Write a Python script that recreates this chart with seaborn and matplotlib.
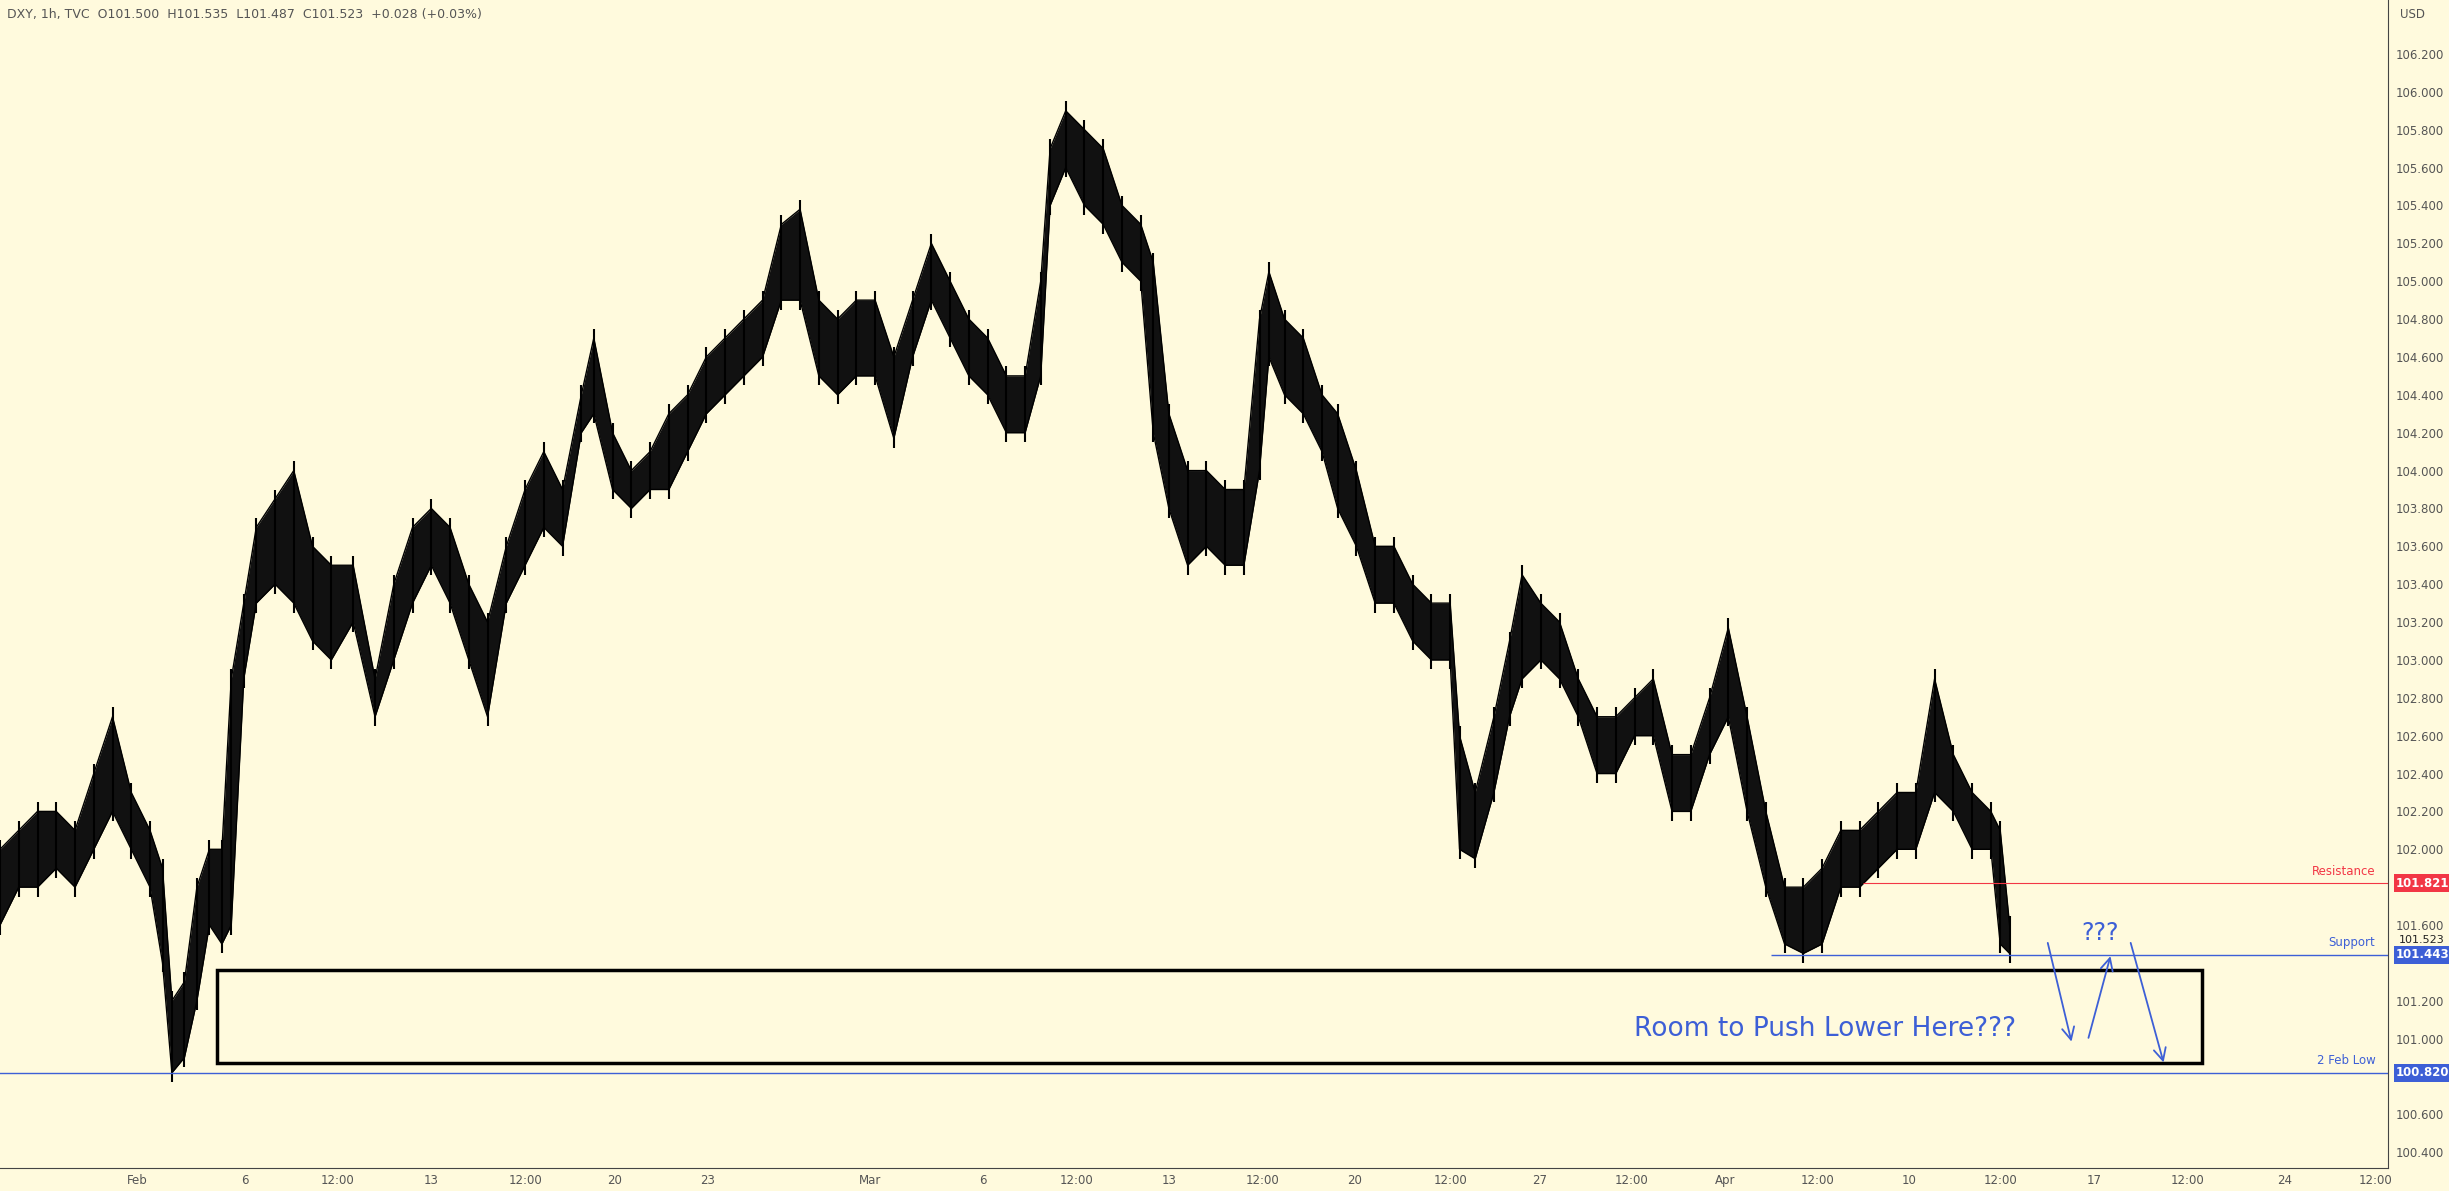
import matplotlib
matplotlib.use("Agg")
import matplotlib.pyplot as plt
import pandas as pd
import seaborn as sns
from matplotlib.patches import Rectangle

# trading hours since Mon 6 Feb 00:00 (weekends removed), with bar high / low
hours = [-157, -145, -133, -121, -109, -97, -85, -73, -61, -53, -47, -39, -31, -23, -15, -9,
         -1, 7, 19, 31, 43, 55, 69, 83, 95, 107, 119, 131, 143, 155, 167, 179, 191, 203,
         215, 223, 235, 247, 259, 271, 283, 295, 307, 319, 331, 343, 355, 367, 379, 391,
         403, 415, 427, 439, 451, 463, 475, 487, 499, 509, 515, 525, 537, 549, 561, 573,
         581, 591, 603, 615, 627, 639, 649, 655, 665, 677, 689, 699, 711, 723, 735, 747,
         759, 771, 777, 787, 799, 809, 817, 829, 841, 853, 865, 877, 889, 901, 913, 925,
         937, 949, 961, 973, 985, 997, 1009, 1021, 1033, 1045, 1057, 1069, 1081, 1093,
         1105, 1117, 1123, 1129]
highs = [102.0, 102.1, 102.2, 102.2, 102.1, 102.4, 102.7, 102.3, 102.1, 101.9, 101.2, 101.3,
         101.8, 102.0, 102.0, 102.9, 103.3, 103.7, 103.85, 104.0, 103.6, 103.5, 103.5, 102.9,
         103.4, 103.7, 103.8, 103.7, 103.4, 103.2, 103.6, 103.9, 104.1, 103.9, 104.4, 104.7,
         104.2, 104.0, 104.1, 104.3, 104.4, 104.6, 104.7, 104.8, 104.9, 105.3, 105.38, 104.9,
         104.8, 104.9, 104.9, 104.6, 104.9, 105.2, 105.0, 104.8, 104.7, 104.5, 104.5, 105.0,
         105.7, 105.9, 105.8, 105.7, 105.4, 105.3, 105.1, 104.3, 104.0, 104.0, 103.9, 103.9,
         104.8, 105.05, 104.8, 104.7, 104.4, 104.3, 104.0, 103.6, 103.6, 103.4, 103.3, 103.3,
         102.6, 102.3, 102.7, 103.1, 103.45, 103.3, 103.2, 102.9, 102.7, 102.7, 102.8, 102.9,
         102.5, 102.5, 102.8, 103.17, 102.7, 102.2, 101.8, 101.8, 101.9, 102.1, 102.1, 102.2,
         102.3, 102.3, 102.9, 102.5, 102.3, 102.2, 102.1, 101.6]
lows = [101.6, 101.8, 101.8, 101.9, 101.8, 102.0, 102.2, 102.0, 101.8, 101.4, 100.82, 100.9,
        101.2, 101.6, 101.5, 101.6, 102.9, 103.3, 103.4, 103.3, 103.1, 103.0, 103.2, 102.7,
        103.0, 103.3, 103.5, 103.3, 103.0, 102.7, 103.3, 103.5, 103.7, 103.6, 104.2, 104.3,
        103.9, 103.8, 103.9, 103.9, 104.1, 104.3, 104.4, 104.5, 104.6, 104.9, 104.9, 104.5,
        104.4, 104.5, 104.5, 104.17, 104.6, 104.9, 104.7, 104.5, 104.4, 104.2, 104.2, 104.5,
        105.4, 105.6, 105.4, 105.3, 105.1, 105.0, 104.2, 103.8, 103.5, 103.6, 103.5, 103.5,
        104.0, 104.6, 104.4, 104.3, 104.1, 103.8, 103.6, 103.3, 103.3, 103.1, 103.0, 103.0,
        102.0, 101.95, 102.3, 102.7, 102.9, 103.0, 102.9, 102.7, 102.4, 102.4, 102.6, 102.6,
        102.2, 102.2, 102.5, 102.7, 102.2, 101.8, 101.5, 101.45, 101.5, 101.8, 101.8, 101.9,
        102.0, 102.0, 102.3, 102.2, 102.0, 102.0, 101.5, 101.45]

tick_hours = [-69, 0, 59, 119, 179, 236, 296, 400, 472, 532, 591, 651, 710, 771, 828, 887,
              947, 1006, 1065, 1123, 1183, 1243, 1305, 1363]
tick_labels = ["Feb", "6", "12:00", "13", "12:00", "20", "23", "Mar", "6", "12:00", "13",
               "12:00", "20", "12:00", "27", "12:00", "Apr", "12:00", "10", "12:00", "17",
               "12:00", "24", "12:00"]

support = 101.443
resistance = 101.821
feb_low = 100.820
last_close = 101.523

df = pd.DataFrame({"hour": hours, "high": highs, "low": lows})

bg = "#fffadd"
blue = "#3d5fd6"
red = "#f23645"
fig = plt.figure(figsize=(24.49, 11.91), dpi=100, facecolor=bg)
ax = fig.add_axes([0.0, 0.019, 0.975, 0.981])
ax.set_facecolor(bg)

ax.fill_between(df["hour"], df["low"], df["high"], color="#111111", linewidth=0)
ax.vlines(df["hour"], df["low"] - 0.05, df["high"] + 0.05, color="black", linewidth=1.5)
sns.lineplot(data=df, x="hour", y="high", ax=ax, color="black", linewidth=1)
sns.lineplot(data=df, x="hour", y="low", ax=ax, color="black", linewidth=1)

ax.set_xlim(-157, 1371)
ax.set_ylim(100.315, 106.485)

# levels
ax.axhline(feb_low, color=blue, linewidth=1)
ax.hlines(support, 976, 1371, color=blue, linewidth=1)
ax.hlines(resistance, 1035, 1371, color=red, linewidth=0.8)
ax.text(1363, resistance + 0.03, "Resistance", color=red, fontsize=8.5, ha="right", va="bottom")
ax.text(1363, support + 0.03, "Support", color=blue, fontsize=8.5, ha="right", va="bottom")
ax.text(1363, feb_low + 0.03, "2 Feb Low", color=blue, fontsize=8.5, ha="right", va="bottom")

# room box and arrows
ax.add_patch(Rectangle((-18, 100.87), 1270, 0.49, fill=False, edgecolor="black", linewidth=2.5))
ax.text(1011, 101.05, "Room to Push Lower Here???", color=blue, fontsize=19, ha="center", va="center")
ax.text(1187, 101.56, "???", color=blue, fontsize=17, ha="center", va="center")
arrows = [((1153, 101.52), (1169, 100.97)), ((1179, 100.99), (1194, 101.45)),
          ((1206, 101.52), (1228, 100.86))]
for (x0, y0), (x1, y1) in arrows:
    ax.annotate("", xy=(x1, y1), xytext=(x0, y0),
                arrowprops=dict(arrowstyle="->", color=blue, lw=1.3, mutation_scale=22))

# axes styling
for s in ["top", "left"]:
    ax.spines[s].set_visible(False)
ax.spines["right"].set_color("#444444")
ax.spines["bottom"].set_color("#444444")
ax.yaxis.tick_right()
yt = [round(100.4 + 0.2 * i, 1) for i in range(30) if round(100.4 + 0.2 * i, 1) not in (101.4, 100.8)]
ax.set_yticks(yt)
ax.set_yticklabels([f"{v:.3f}" for v in yt])
ax.set_xticks(tick_hours)
ax.set_xticklabels(tick_labels)
ax.tick_params(axis="both", colors="#555555", labelsize=8.5, length=0, pad=6)
ax.tick_params(axis="x", pad=4)
ax.set_xlabel("")
ax.set_ylabel("")

# price badges
def badge(y, txt, color, fg="white"):
    ax.text(1.0035, y, txt, transform=ax.get_yaxis_transform(), fontsize=8.5, color=fg,
            va="center", ha="left", fontweight="bold",
            bbox=dict(boxstyle="square,pad=0.2", facecolor=color, edgecolor="none"))

badge(resistance, f"{resistance:.3f}", red)
ax.text(1.0048, last_close, f"{last_close:.3f}", transform=ax.get_yaxis_transform(),
        fontsize=8, color="#222222", va="center", ha="left")
badge(support, f"{support:.3f}", blue)
badge(feb_low, f"{feb_low:.3f}", blue)

fig.text(0.003, 0.993, "DXY, 1h, TVC  O101.500  H101.535  L101.487  C101.523  +0.028 (+0.03%)",
         fontsize=9, color="#555555", va="top")
fig.text(0.98, 0.993, "USD", fontsize=8.5, color="#555555", va="top")

fig.savefig("out.png", dpi=100, facecolor=bg)
